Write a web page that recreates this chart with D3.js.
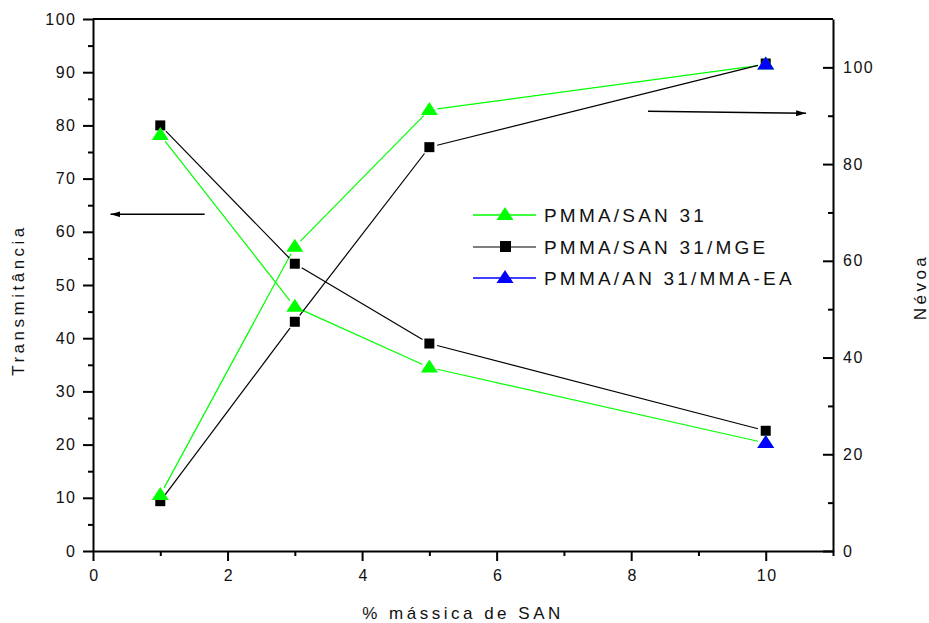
<!DOCTYPE html>
<html>
<head>
<meta charset="utf-8">
<script src="https://cdn.jsdelivr.net/npm/d3@7"></script>
<style>
  html, body { margin: 0; padding: 0; background: #fff; }
  svg text { font-family: "Liberation Sans", Arial, sans-serif; fill: #111; }
</style>
</head>
<body>
<svg id="chart" width="929" height="623"></svg>
<script>
// % mássica de SAN
const massFraction = [1, 3, 5, 10];

// Transmitância (eixo esquerdo)
const transSan = [78.2, 45.9, 34.5, 20.3];
const transSanMge = [80.0, 54.0, 39.0, 22.6];
const transMmaEa = [20.3];

// Névoa (eixo direito)
const hazeSan = [11.6, 62.9, 91.2, 100.6];
const hazeSanMge = [10.3, 47.4, 83.5, 100.8];
const hazeMmaEa = [100.6];
const massMmaEa = [10];

const xTicks = [0, 2, 4, 6, 8, 10];
const leftTicks = [0, 10, 20, 30, 40, 50, 60, 70, 80, 90, 100];
const rightTicks = [0, 20, 40, 60, 80, 100];

const seriesNames = ["PMMA/SAN 31", "PMMA/SAN 31/MGE", "PMMA/AN 31/MMA-EA"];

const svg = d3.select("#chart");
const L = 93, R = 833, T = 19, B = 551;

const x = d3.scaleLinear().domain([0, 11]).range([L, R]);
const yL = d3.scaleLinear().domain([0, 100]).range([B, T]);
const yR = d3.scaleLinear().domain([0, 110]).range([B, T]);

const GREEN = "#00ff00", BLACK = "#000000", BLUE = "#0000ff";

// frame: top line
svg.append("line").attr("x1", L).attr("x2", R).attr("y1", T).attr("y2", T)
  .attr("stroke", "#000").attr("stroke-width", 2);

function styleAxis(g) {
  g.select(".domain").attr("stroke-width", 2);
  g.selectAll(".tick line").attr("stroke-width", 2);
  g.selectAll("text")
    .style("font-family", '"Liberation Sans", Arial, sans-serif')
    .style("font-size", "16px")
    .style("letter-spacing", "1.5px")
    .attr("fill", "#111");
}

// bottom axis
const gx = svg.append("g").attr("transform", `translate(0,${B})`)
  .call(d3.axisBottom(x).tickValues(xTicks).tickSize(10).tickSizeOuter(0).tickPadding(9));
styleAxis(gx);
gx.selectAll("text").attr("dx", "1px");
svg.append("g").attr("transform", `translate(0,${B})`)
  .call(d3.axisBottom(x).tickValues([1, 3, 5, 7, 9, 11]).tickSize(5).tickSizeOuter(0).tickFormat(""))
  .call(g => { g.select(".domain").remove(); g.selectAll(".tick line").attr("stroke-width", 2); });

// left axis
const gl = svg.append("g").attr("transform", `translate(${L},0)`)
  .call(d3.axisLeft(yL).tickValues(leftTicks).tickSize(10).tickSizeOuter(0).tickPadding(8));
styleAxis(gl);
gl.selectAll("text").attr("dx", "1.5px");
svg.append("g").attr("transform", `translate(${L},0)`)
  .call(d3.axisLeft(yL).tickValues(d3.range(5, 100, 10)).tickSize(5).tickSizeOuter(0).tickFormat(""))
  .call(g => { g.select(".domain").remove(); g.selectAll(".tick line").attr("stroke-width", 2); });

// right axis, ticks inward
const gr = svg.append("g").attr("transform", `translate(${R},0)`)
  .call(d3.axisRight(yR).tickValues(rightTicks).tickSize(-10).tickSizeOuter(0).tickPadding(10));
styleAxis(gr);
gr.selectAll("text").attr("x", 10);
svg.append("g").attr("transform", `translate(${R},0)`)
  .call(d3.axisRight(yR).tickValues(d3.range(10, 110, 20)).tickSize(-5).tickSizeOuter(0).tickFormat(""))
  .call(g => { g.select(".domain").remove(); g.selectAll(".tick line").attr("stroke-width", 2); });

// axis titles
const titleStyle = sel => sel.style("font-size", "17px").style("letter-spacing", "3.5px");
svg.append("text").attr("x", 463).attr("y", 619).attr("text-anchor", "middle")
  .text("% mássica de SAN").call(titleStyle);
svg.append("text").attr("transform", "translate(24,300) rotate(-90)").attr("text-anchor", "middle")
  .text("Transmitância").call(titleStyle);
svg.append("text").attr("transform", "translate(926,287) rotate(-90)").attr("text-anchor", "middle")
  .text("Névoa").call(titleStyle);

// connecting segments, trimmed short of each marker
const plot = svg.append("g");
function drawLine(xs, ys, yScale, color) {
  const pts = xs.map((v, i) => [x(v), yScale(ys[i])]);
  const gap = 8;
  for (let i = 0; i < pts.length - 1; i++) {
    const [x1, y1] = pts[i], [x2, y2] = pts[i + 1];
    const len = Math.hypot(x2 - x1, y2 - y1);
    const ux = (x2 - x1) / len, uy = (y2 - y1) / len;
    plot.append("line")
      .attr("x1", x1 + ux * gap).attr("y1", y1 + uy * gap)
      .attr("x2", x2 - ux * gap).attr("y2", y2 - uy * gap)
      .attr("stroke", color).attr("stroke-width", 1.2);
  }
}

const triPath = "M0,-8 L8.5,5 L-8.5,5 Z";
function drawTriangles(xs, ys, yScale, color) {
  plot.append("g").selectAll("path").data(xs).join("path")
    .attr("d", triPath)
    .attr("transform", (d, i) => `translate(${x(d)},${yScale(ys[i])})`)
    .attr("fill", color);
}
function drawSquares(xs, ys, yScale, color) {
  plot.append("g").selectAll("rect").data(xs).join("rect")
    .attr("x", d => x(d) - 5).attr("width", 10).attr("height", 10)
    .attr("y", (d, i) => yScale(ys[i]) - 5)
    .attr("fill", color);
}

drawLine(massFraction, transSan, yL, GREEN);
drawLine(massFraction, hazeSan, yR, GREEN);
drawLine(massFraction, transSanMge, yL, BLACK);
drawLine(massFraction, hazeSanMge, yR, BLACK);

drawSquares(massFraction, transSanMge, yL, BLACK);
drawSquares(massFraction, hazeSanMge, yR, BLACK);
drawTriangles(massFraction, transSan, yL, GREEN);
drawTriangles(massFraction, hazeSan, yR, GREEN);
drawTriangles(massMmaEa, transMmaEa, yL, BLUE);
drawTriangles(massMmaEa, hazeMmaEa, yR, BLUE);

// arrows pointing to the axis each pair of curves uses
const defs = svg.append("defs");
defs.append("marker").attr("id", "head").attr("viewBox", "0 0 10 6")
  .attr("refX", 10).attr("refY", 3).attr("markerWidth", 10).attr("markerHeight", 6)
  .attr("markerUnits", "userSpaceOnUse").attr("orient", "auto")
  .append("path").attr("d", "M0,0 L10,3 L0,6 Z").attr("fill", "#000");

svg.append("line")
  .attr("x1", x(1.66)).attr("y1", yL(63.3)).attr("x2", x(0.26)).attr("y2", yL(63.3))
  .attr("stroke", "#000").attr("stroke-width", 1.5).attr("marker-end", "url(#head)");
svg.append("line")
  .attr("x1", x(8.25)).attr("y1", yR(90.9)).attr("x2", x(10.6)).attr("y2", yR(90.5))
  .attr("stroke", "#000").attr("stroke-width", 1.5).attr("marker-end", "url(#head)");

// legend
const legend = svg.append("g");
const legendRows = [
  { name: seriesNames[0], color: GREEN, shape: "tri", y: 215 },
  { name: seriesNames[1], color: "#555", fill: BLACK, shape: "sq", y: 247 },
  { name: seriesNames[2], color: BLUE, shape: "tri", y: 278 }
];
legendRows.forEach(r => {
  legend.append("line").attr("x1", 473).attr("x2", 536).attr("y1", r.y).attr("y2", r.y)
    .attr("stroke", r.color).attr("stroke-width", 1.5);
  if (r.shape === "tri") {
    legend.append("path").attr("d", triPath).attr("transform", `translate(505,${r.y})`).attr("fill", r.color);
  } else {
    legend.append("rect").attr("x", 500).attr("y", r.y - 6).attr("width", 11).attr("height", 11).attr("fill", r.fill);
  }
  legend.append("text").attr("x", 544).attr("y", r.y + 7).text(r.name)
    .style("font-size", "19px").style("letter-spacing", "3.2px");
});
</script>
</body>
</html>
